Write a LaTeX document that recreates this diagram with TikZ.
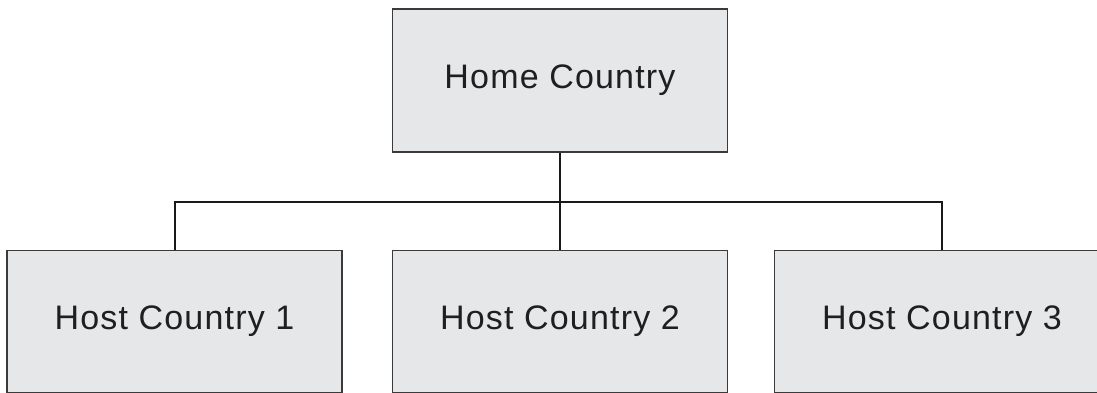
\documentclass[tikz,border=0pt]{standalone}
\usepackage{fontspec}
\setmainfont{Liberation Sans}[LetterSpace=3.5]
\definecolor{boxgray}{HTML}{E6E7E8}
\definecolor{edgegray}{HTML}{3A3A3A}
\begin{document}
\begin{tikzpicture}[x=1pt,y=-1pt,
  box/.style={draw=edgegray, line width=1.5pt, fill=boxgray,
    minimum width=335pt, minimum height=143pt, inner sep=0pt,
    font=\fontsize{34}{40}\selectfont, text=black!88},
  link/.style={line width=2pt, draw=black!90}]
\clip (0,0) rectangle (1097,393);
\node[box] (home) at (560,80.5) {Home Country};
\node[box, minimum height=142pt] (h1) at (174.5,321.5) {Host Country 1};
\node[box, minimum height=142pt] (h2) at (560,321.5) {Host Country 2};
\node[box, minimum height=142pt] (h3) at (942,321.5) {Host Country 3};
\coordinate (bus) at (560,202);
\draw[link] (home.south) -- (bus);
\draw[link] (h1.north) |- (bus) -| (h3.north);
\draw[link] (bus) -- (h2.north);
\end{tikzpicture}
\end{document}
